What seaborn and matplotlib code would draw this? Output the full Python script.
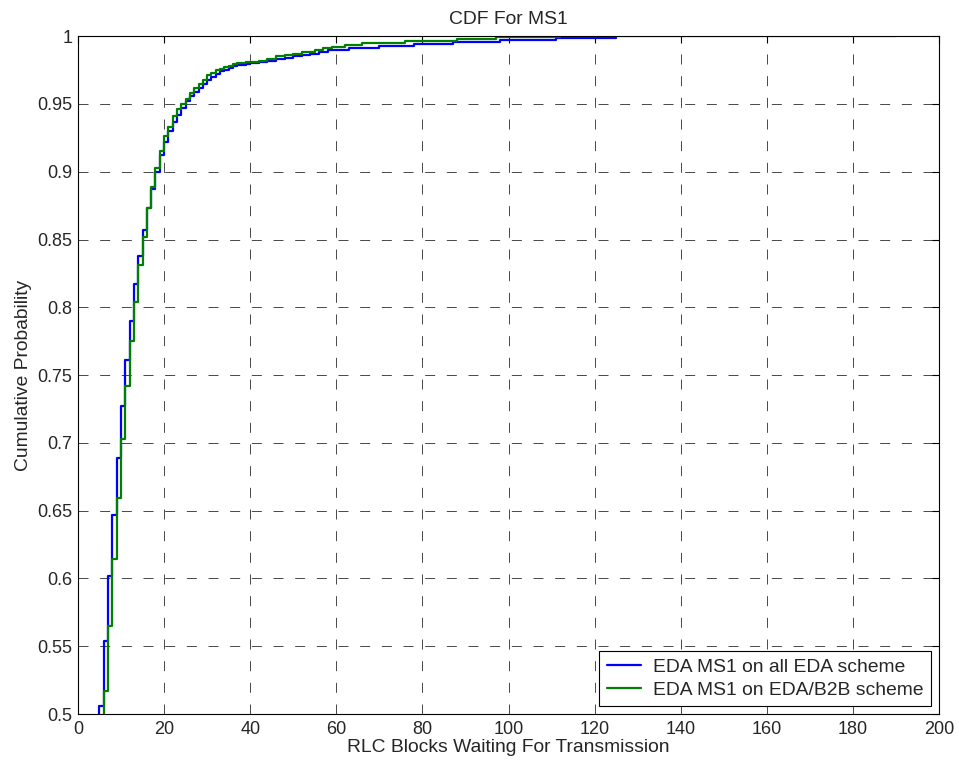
import numpy as np
import pandas as pd
import seaborn as sns
import matplotlib.pyplot as plt

# Значения (лестничные CDF)
x_all_eda = [4, 5, 6, 7, 8, 9, 10, 11, 12, 13, 14, 15, 16, 17, 18, 19, 20,
             21, 22, 23, 24, 25, 26, 27, 28, 29, 30, 31, 32, 33, 34, 35, 36,
             37, 38, 39, 40, 42, 44, 46, 48, 50, 52, 54, 56, 58, 63, 70, 78,
             87, 98, 111, 125]
cdf_all_eda = [0.455, 0.506, 0.554, 0.602, 0.647, 0.689, 0.727, 0.761, 0.790,
               0.817, 0.838, 0.857, 0.873, 0.887, 0.900, 0.912, 0.922, 0.930,
               0.937, 0.942, 0.947, 0.952, 0.956, 0.959, 0.962, 0.965, 0.968,
               0.970, 0.972, 0.974, 0.975, 0.9765, 0.978, 0.979, 0.979, 0.9795,
               0.980, 0.981, 0.982, 0.983, 0.984, 0.985, 0.986, 0.987, 0.988,
               0.9895, 0.991, 0.9925, 0.994, 0.9955, 0.997, 0.9985, 1.0]

x_eda_b2b = [5, 6, 7, 8, 9, 10, 11, 12, 13, 14, 15, 16, 17, 18, 19, 20, 21,
             22, 23, 24, 25, 26, 27, 28, 29, 30, 31, 32, 33, 34, 35, 36, 37,
             38, 39, 40, 42, 44, 46, 48, 50, 52, 55, 57, 59, 62, 66, 76, 88,
             97, 112, 190]
cdf_eda_b2b = [0.46, 0.517, 0.565, 0.614, 0.659, 0.703, 0.742, 0.775, 0.804,
               0.831, 0.852, 0.873, 0.889, 0.903, 0.915, 0.926, 0.933, 0.941,
               0.946, 0.950, 0.954, 0.958, 0.962, 0.965, 0.968, 0.971, 0.973,
               0.975, 0.976, 0.977, 0.978, 0.9795, 0.980, 0.9805, 0.981, 0.981,
               0.982, 0.983, 0.985, 0.986, 0.987, 0.988, 0.9895, 0.991, 0.992,
               0.9935, 0.995, 0.9965, 0.998, 0.9992, 1.0, 1.0]

label_all = "EDA MS1 on all EDA scheme"
label_b2b = "EDA MS1 on EDA/B2B scheme"

x_ticks = list(range(0, 201, 20))
y_ticks = [0.5, 0.55, 0.6, 0.65, 0.7, 0.75, 0.8, 0.85, 0.9, 0.95, 1]
y_tick_labels = ["0.5", "0.55", "0.6", "0.65", "0.7", "0.75", "0.8", "0.85",
                 "0.9", "0.95", "1"]

data = pd.concat([
    pd.DataFrame({"x": x_all_eda, "cdf": cdf_all_eda, "scheme": label_all}),
    pd.DataFrame({"x": x_eda_b2b, "cdf": cdf_eda_b2b, "scheme": label_b2b}),
], ignore_index=True)

sns.set_style("white")
plt.rcParams['font.family'] = ['Liberation Sans', 'DejaVu Sans']
plt.rcParams['xtick.direction'] = 'in'
plt.rcParams['ytick.direction'] = 'in'

fs_tick = 13
fs = 13.9

fig = plt.figure(figsize=(9.59, 7.69), dpi=100)
ax = fig.add_axes([0.0813, 0.0715, 0.898, 0.8815])

sns.lineplot(data=data, x="x", y="cdf", hue="scheme",
             palette={label_all: (0, 0, 1), label_b2b: (0, 0.5, 0)},
             drawstyle="steps-post", linewidth=1.6, estimator=None, sort=False,
             ax=ax)

ax.set_xlim(0, 200)
ax.set_ylim(0.5, 1)
ax.set_xticks(x_ticks)
ax.set_yticks(y_ticks)
ax.set_yticklabels(y_tick_labels)
ax.tick_params(axis='both', labelsize=fs_tick, length=5, width=0.8,
               color='black', top=True, right=True)
ax.tick_params(axis='x', pad=5)
ax.tick_params(axis='y', pad=4)
ax.grid(True, color='black', linestyle=(0, (14.4, 16.8)), linewidth=0.5)
for s in ax.spines.values():
    s.set_color('black')
    s.set_linewidth(0.8)

ax.set_xlabel("RLC Blocks Waiting For Transmission", fontsize=fs, labelpad=1)
ax.set_ylabel("Cumulative Probability", fontsize=fs, labelpad=4)
ax.set_title("CDF For MS1", fontsize=fs, pad=9)

leg = ax.legend(loc="lower right", fontsize=fs, fancybox=False,
                framealpha=1, edgecolor='black', borderaxespad=0.4,
                handlelength=1.75, handletextpad=0.65, borderpad=0.4,
                labelspacing=0.25)
leg.get_frame().set_linewidth(0.8)

fig.savefig("out.png", dpi=100)
